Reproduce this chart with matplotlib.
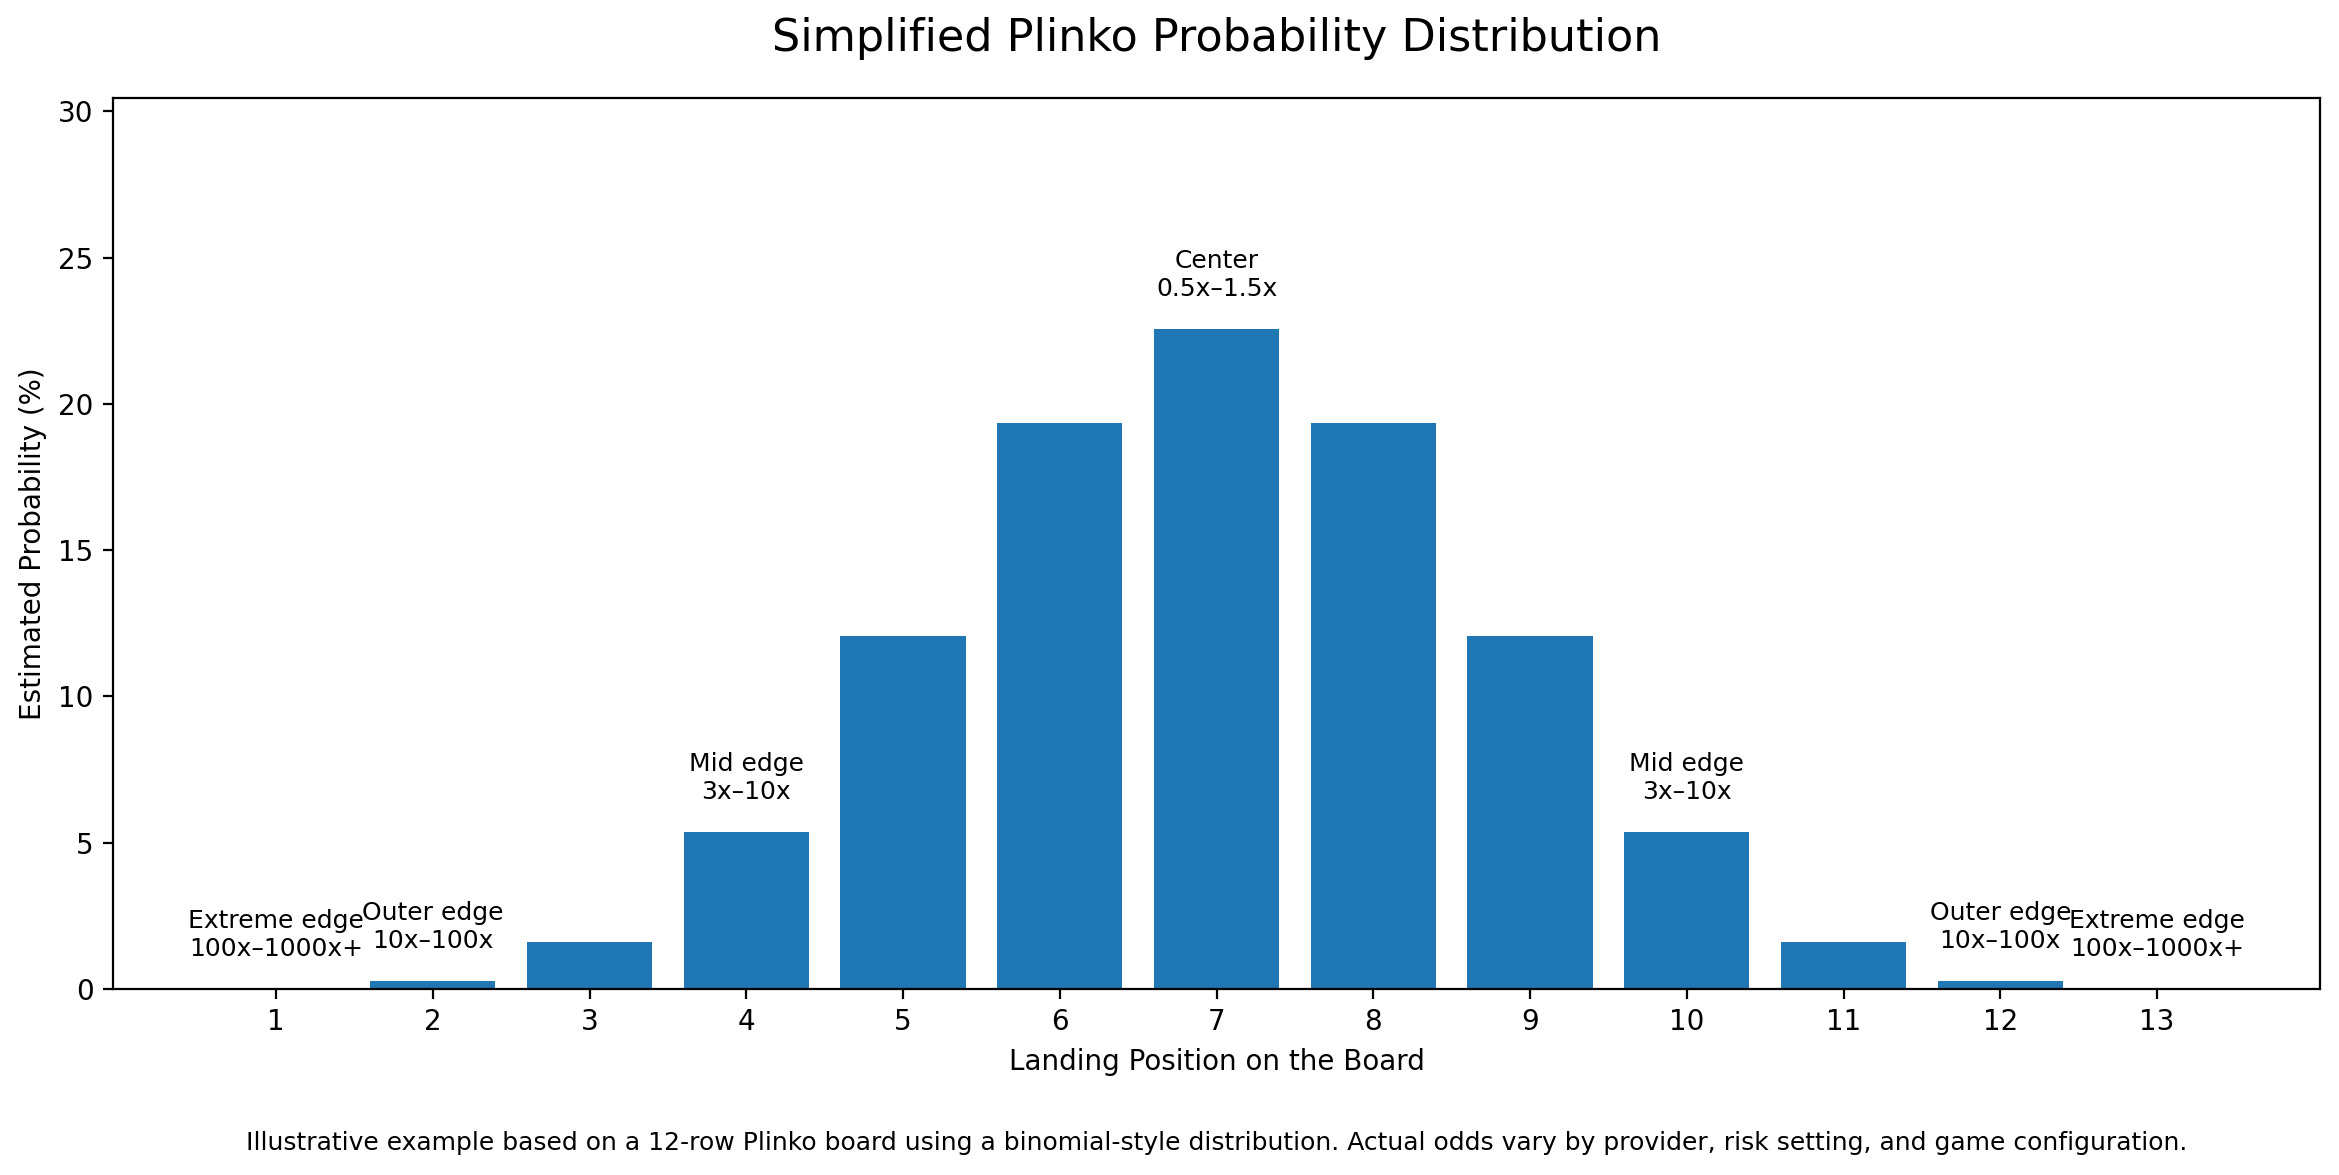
import matplotlib
matplotlib.use('Agg')
import matplotlib.pyplot as plt

# Landing positions and estimated probabilities (%)
posiciones = [1, 2, 3, 4, 5, 6, 7, 8, 9, 10, 11, 12, 13]
probabilidades = [0.02, 0.29, 1.61, 5.37, 12.08, 19.34, 22.56,
                  19.34, 12.08, 5.37, 1.61, 0.29, 0.02]

# Annotated positions and their labels
pos_etiquetas = [1, 2, 4, 7, 10, 12, 13]
etiquetas = ['Extreme edge\n100x–1000x+', 'Outer edge\n10x–100x', 'Mid edge\n3x–10x',
             'Center\n0.5x–1.5x', 'Mid edge\n3x–10x', 'Outer edge\n10x–100x',
             'Extreme edge\n100x–1000x+']

fig, ax = plt.subplots(figsize=(11.695, 5.875), dpi=200)
fig.subplots_adjust(left=0.0483, right=0.9919, top=0.9166, bottom=0.1583)

ax.bar(posiciones, probabilidades, color='#1f77b4', width=0.8)
ax.set_xticks(posiciones)
ax.set_ylim(0, max(probabilidades) * 1.35)

for p, texto in zip(pos_etiquetas, etiquetas):
    v = probabilidades[posiciones.index(p)]
    ax.text(p, v + 0.95, texto, ha='center', va='bottom', fontsize=9)

ax.set_xlabel('Landing Position on the Board', fontsize=10)
ax.set_ylabel('Estimated Probability (%)', fontsize=10)
ax.set_title('Simplified Plinko Probability Distribution', fontsize=16, pad=17)

fig.text(0.52, 0.027,
         'Illustrative example based on a 12-row Plinko board using a binomial-style distribution. '
         'Actual odds vary by provider, risk setting, and game configuration.',
         ha='center', va='center', fontsize=9)

plt.savefig('out.png', dpi=200)
